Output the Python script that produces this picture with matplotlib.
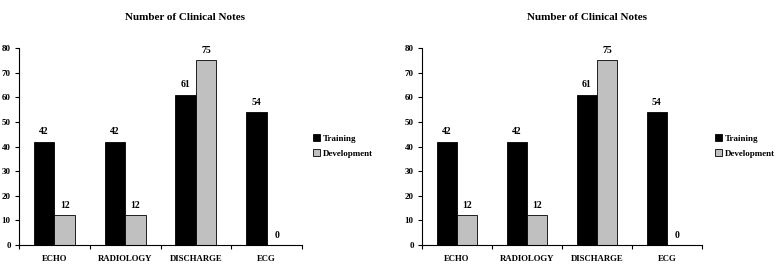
import matplotlib
matplotlib.use("Agg")
import matplotlib.pyplot as plt
import numpy as np
from matplotlib.patches import Patch

categories = ["ECHO", "RADIOLOGY", "DISCHARGE", "ECG"]
training = [42, 42, 61, 54]
development = [12, 12, 75, 0]
series_names = ["Training", "Development"]
title = "Number of Clinical Notes"
yticks = [0, 10, 20, 30, 40, 50, 60, 70, 80]

W, H = 779, 278
fig = plt.figure(figsize=(W / 100, H / 100), dpi=100)
plt.rcParams['font.family'] = ['Liberation Serif', 'DejaVu Serif']
plt.rcParams['font.weight'] = 'bold'

black = "#000000"
gray = "#c0c0c0"

def panel(x0, x1, y_top, y_bot, title_x, legend_x):
    ax = fig.add_axes([x0 / W, (H - y_bot) / H, (x1 - x0) / W, (y_bot - y_top) / H])
    x = np.arange(len(categories))
    w = 0.29
    ax.bar(x - w / 2, training, w, color=black, edgecolor=black, linewidth=0.6)
    ax.bar(x + w / 2, development, w, color=gray, edgecolor=black, linewidth=0.6)
    for xi, v in zip(x, training):
        ax.text(xi - w / 2, v + 2.2, str(v), ha='center', va='bottom', fontsize=7, fontweight='bold')
    for xi, v in zip(x, development):
        ax.text(xi + w / 2, v + 2.2, str(v), ha='center', va='bottom', fontsize=7, fontweight='bold')
    ax.set_xlim(-0.5, len(categories) - 0.5)
    ax.set_ylim(0, 80)
    ax.set_yticks(yticks)
    ax.set_yticklabels([str(t) for t in yticks], fontsize=6.5, fontweight='bold')
    ax.set_xticks(x)
    ax.set_xticklabels(categories, fontsize=6.3, fontweight='bold')
    ax.set_xticks(np.arange(len(categories) + 1) - 0.5, minor=True)
    ax.tick_params(axis='x', which='major', length=0, pad=7)
    ax.tick_params(axis='x', which='minor', length=3, width=0.8, direction='out')
    ax.tick_params(axis='y', length=3, width=0.8, direction='out', pad=3)
    for s in ['top', 'right']:
        ax.spines[s].set_visible(False)
    for s in ['left', 'bottom']:
        ax.spines[s].set_linewidth(0.8)
    fig.text(title_x / W, (H - 17) / H, title, ha='center', va='center', fontsize=8, fontweight='bold')
    handles = [Patch(facecolor=black, edgecolor=black, linewidth=0.6),
               Patch(facecolor=gray, edgecolor=black, linewidth=0.6)]
    fig.legend(handles, series_names, loc='center left',
               bbox_to_anchor=(legend_x / W, (H - 146) / H), frameon=False,
               prop={'size': 6.5, 'weight': 'bold'}, handlelength=0.75, handleheight=0.75,
               handletextpad=0.3, labelspacing=0.75, borderaxespad=0, borderpad=0)
    return ax

panel(19, 302, 48, 245, 185, 313)
panel(422, 702, 48, 245, 587, 715)

fig.savefig("out.png", dpi=100)
